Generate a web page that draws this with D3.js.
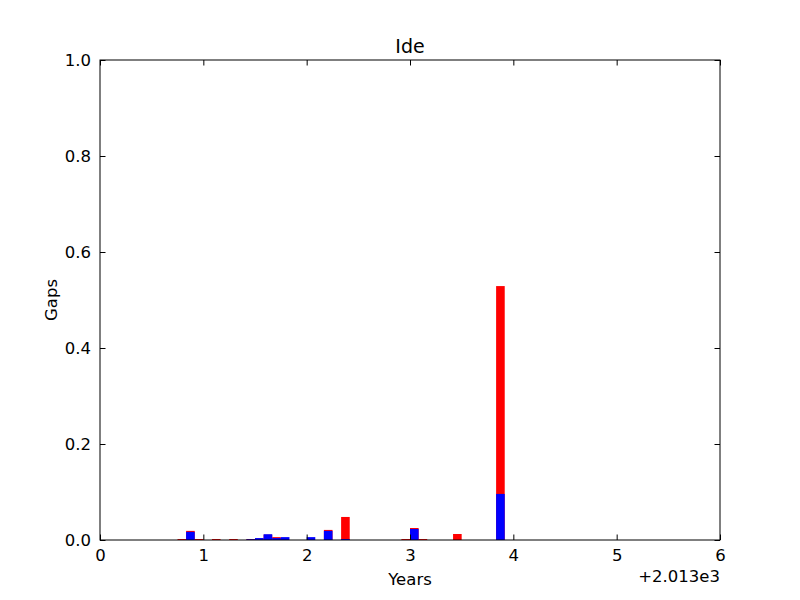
<!DOCTYPE html>
<html>
<head>
<meta charset="utf-8">
<script src="https://cdn.jsdelivr.net/npm/d3@7"></script>
<style>
  html, body { margin: 0; padding: 0; background: #fff; }
  svg { display: block; }
  text { font-family: "DejaVu Sans", sans-serif; fill: #000; }
</style>
</head>
<body>
<div id="chart"></div>
<script>
// Monthly periods (YYYY-MM)
const months = ["2013-10","2013-11","2013-12","2014-02","2014-04","2014-06","2014-07","2014-08","2014-09","2014-10","2015-01","2015-03","2015-05","2015-12","2016-01","2016-02","2016-06","2016-11"];
// Red series (drawn first)
const redValues  = [0.002,0.019,0.002,0.002,0.002,0.002,0.003,0.011,0.006,0.000,0.000,0.021,0.048,0.002,0.025,0.002,0.0125,0.529];
// Blue series (drawn over red)
const blueValues = [0.000,0.017,0.000,0.000,0.000,0.0015,0.004,0.012,0.004,0.006,0.006,0.019,0.002,0.000,0.023,0.000,0.000,0.096];
const xTicks = [0,1,2,3,4,5,6];
const yTicks = [0.0,0.2,0.4,0.6,0.8,1.0];
const title = "Ide";
const xLabel = "Years";
const yLabel = "Gaps";
const offsetText = "+2.013e3";
const baseYear = 2013;

const W = 800, H = 600;
const margin = {left: 100, right: 80, top: 60, bottom: 60};
const iw = W - margin.left - margin.right, ih = H - margin.top - margin.bottom;

const svg = d3.select("#chart").append("svg").attr("width", W).attr("height", H);
const g = svg.append("g").attr("transform", `translate(${margin.left},${margin.top})`);

const x = d3.scaleLinear().domain([0, 6]).range([0, iw]);
const y = d3.scaleLinear().domain([0, 1]).range([ih, 0]);

function offset(m) {
  const [yr, mo] = m.split("-").map(Number);
  return (yr - baseYear) + (mo - 1) / 12;
}
const data = months.map((m, i) => ({x: offset(m), r: redValues[i], b: blueValues[i]}));
const bw = 1 / 12;

g.selectAll("rect.red").data(data).enter().append("rect")
  .attr("class", "red")
  .attr("x", d => x(d.x)).attr("width", d => x(d.x + bw) - x(d.x))
  .attr("y", d => y(d.r)).attr("height", d => y(0) - y(d.r))
  .attr("fill", "#ff0000");
g.selectAll("rect.blue").data(data).enter().append("rect")
  .attr("class", "blue")
  .attr("x", d => x(d.x)).attr("width", d => x(d.x + bw) - x(d.x))
  .attr("y", d => y(d.b)).attr("height", d => y(0) - y(d.b))
  .attr("fill", "#0000ff");

// Axes: ticks inward on all sides
const tickLen = 5.5;
const fs = "16.5px";
const xb = g.append("g").attr("transform", `translate(0,${ih})`)
  .call(d3.axisBottom(x).tickValues(xTicks).tickSize(-tickLen).tickPadding(9).tickFormat(d3.format("d")));
const xt = g.append("g")
  .call(d3.axisTop(x).tickValues(xTicks).tickSize(-tickLen).tickFormat(""));
const yl = g.append("g")
  .call(d3.axisLeft(y).tickValues(yTicks).tickSize(-tickLen).tickPadding(9).tickFormat(d3.format(".1f")));
const yr = g.append("g").attr("transform", `translate(${iw},0)`)
  .call(d3.axisRight(y).tickValues(yTicks).tickSize(-tickLen).tickFormat(""));
[xb, xt, yl, yr].forEach(a => {
  a.select(".domain").remove();
  a.selectAll(".tick line").attr("stroke", "#000").attr("stroke-width", 1);
  a.selectAll(".tick text").style("font-size", fs).style("font-family", "DejaVu Sans, sans-serif").attr("fill", "#000");
});
// remove tick marks at the corners' edges handled by frame
g.append("rect").attr("x", 0).attr("y", 0).attr("width", iw).attr("height", ih)
  .attr("fill", "none").attr("stroke", "#000").attr("stroke-width", 1);

svg.append("text").attr("x", margin.left + iw / 2).attr("y", margin.top - 7)
  .attr("text-anchor", "middle").style("font-size", "19px").text(title);
svg.append("text").attr("x", margin.left + iw / 2).attr("y", 585)
  .attr("text-anchor", "middle").style("font-size", fs).text(xLabel);
svg.append("text").attr("transform", `translate(57,${margin.top + ih / 2}) rotate(-90)`)
  .attr("text-anchor", "middle").style("font-size", fs).text(yLabel);
svg.append("text").attr("x", margin.left + iw).attr("y", 582)
  .attr("text-anchor", "end").style("font-size", fs).text(offsetText);
</script>
</body>
</html>
